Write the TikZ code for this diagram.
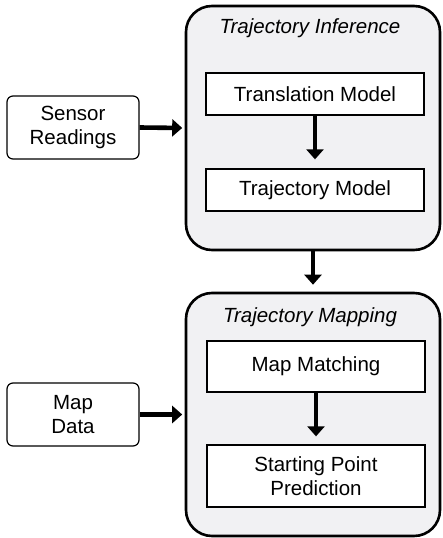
\documentclass[tikz,border=0pt]{standalone}
\usepackage{fontspec}
\setmainfont{Liberation Sans}
\usetikzlibrary{arrows.meta}
\definecolor{groupfill}{RGB}{241,241,243}
\tikzset{
  txt/.style={font=\fontsize{20.5}{23.5}\selectfont, align=center},
  group/.style={draw, line width=2.6pt, fill=groupfill, rounded corners=26pt, minimum width=254pt, inner sep=0pt},
  inner/.style={txt, draw, line width=1.3pt, fill=white, minimum width=218pt, inner sep=0pt},
  src/.style={txt, draw, line width=1.2pt, fill=white, rounded corners=6pt, minimum width=132pt, minimum height=63pt, inner sep=0pt},
  title/.style={font=\fontsize{20.5}{23.5}\selectfont\itshape},
  flow/.style={line width=4.6pt, -{Triangle[length=10pt,width=17pt]}}
}
\begin{document}
\begin{tikzpicture}[x=1pt,y=-1pt]
\useasboundingbox (0,0) rectangle (443,538);
\node[group, minimum height=244pt] (ti) at (313,128) {};
\node[group, minimum height=243pt] (tm) at (313,414.5) {};
\node[title] (tit) at (310,28) {Trajectory Inference};
\node[title] (tmt) at (310,317) {Trajectory Mapping};
\node[inner, minimum height=42pt] (tr) at (315,94) {Translation Model};
\node[inner, minimum height=42pt] (tj) at (315,190) {Trajectory Model};
\node[inner, minimum height=51pt] (mm) at (316,366.5) {Map Matching};
\node[inner, minimum height=62pt] (sp) at (316,476) {Starting Point\\Prediction};
\node[src] (sr) at (73,127.5) {Sensor\\Readings};
\node[src] (md) at (73,414.5) {Map\\Data};
\draw[flow, shorten >=9pt] (tr.south) -- (tj.north);
\draw[flow, shorten >=8pt] (mm.south) -- (sp.north);
\draw[flow, shorten >=7pt] (ti.south) -- (tm.north);
\draw[flow, shorten >=2.5pt] (sr.east) -- (ti.west);
\draw[flow, shorten >=2.5pt] (md.east) -- (tm.west);
\end{tikzpicture}
\end{document}
